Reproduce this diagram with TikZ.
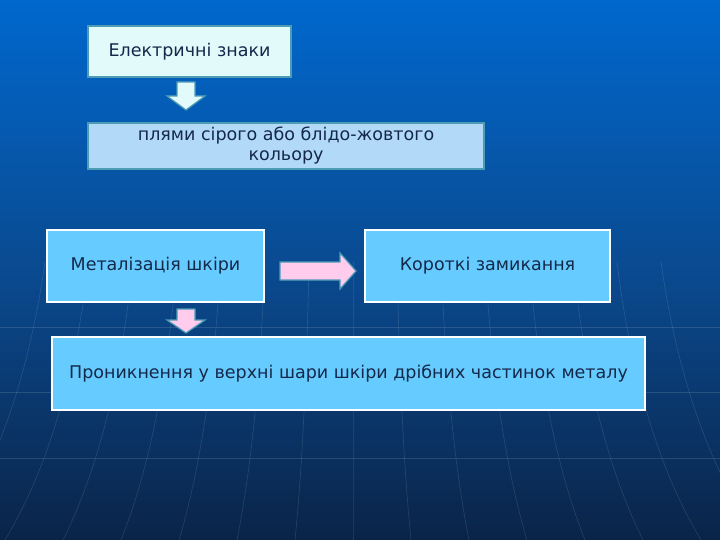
\documentclass[tikz,border=0pt]{standalone}
\usepackage{fontspec}
\setmainfont{DejaVu Sans}
\definecolor{bgtop}{HTML}{0068CE}
\definecolor{bgmid}{HTML}{0A4A90}
\definecolor{bgbot}{HTML}{0A2448}
\definecolor{txt}{HTML}{14284A}
\definecolor{tealb}{HTML}{4C9CB4}
\definecolor{pale}{HTML}{E2FAFA}
\definecolor{lightb}{HTML}{B2DAF8}
\definecolor{skyb}{HTML}{66CCFF}
\definecolor{pinkf}{HTML}{FFCCEE}
\tikzset{
  box/.style={draw=tealb, line width=1.5pt, inner sep=0pt, text=txt, font=\fontsize{17.5}{21}\selectfont, align=center},
  bigbox/.style={draw=white, line width=2.5pt, fill=skyb, inner sep=0pt, text=txt, font=\fontsize{17.5}{21}\selectfont, align=center},
  arr/.style={draw=tealb, line width=1.2pt, line join=miter},
  gridline/.style={draw=white, opacity=0.12, line width=0.6pt}
}
\begin{document}
\begin{tikzpicture}[x=1pt,y=-1pt]
\useasboundingbox (0,0) rectangle (720,540);
% background
\shade[top color=bgtop, bottom color=bgmid] (0,0) rectangle (720,270);
\shade[top color=bgmid, bottom color=bgbot] (0,270) rectangle (720,540);
% faint globe lines
\foreach \y in {327,392,458} \draw[gridline] (0,\y) -- (720,\y);
\foreach \i in {-7,...,7} {
  \draw[gridline] (353+\i*44,262) .. controls (353+\i*46,360) and (353+\i*50,460) .. (353+\i*58,540);
}
% nodes
\node[box, fill=pale, minimum width=203, minimum height=51] (a) at (189.5,51.5) {Електричні знаки};
\node[box, fill=lightb, minimum width=396, minimum height=46] (b) at (286,146) {плями сірого або блідо-жовтого\\[-1pt]кольору};
\node[bigbox, minimum width=217, minimum height=72] (c) at (155.5,266) {Металізація шкіри};
\node[bigbox, minimum width=245, minimum height=72] (d) at (487.5,266) {Короткі замикання};
\node[bigbox, minimum width=593, minimum height=73] (e) at (348.5,373.5) {Проникнення у верхні шари шкіри дрібних частинок металу};
% arrows
\draw[arr, fill=pale] (177,82) -- (195,82) -- (195,96) -- (205,96) -- (186,110) -- (167,96) -- (177,96) -- cycle;
\draw[arr, fill=pinkf] (280,262) -- (340,262) -- (340,253) -- (356,271) -- (340,289) -- (340,280) -- (280,280) -- cycle;
\draw[arr, fill=pinkf] (177,309) -- (195,309) -- (195,320) -- (205,320) -- (186,333) -- (167,320) -- (177,320) -- cycle;
\end{tikzpicture}
\end{document}
